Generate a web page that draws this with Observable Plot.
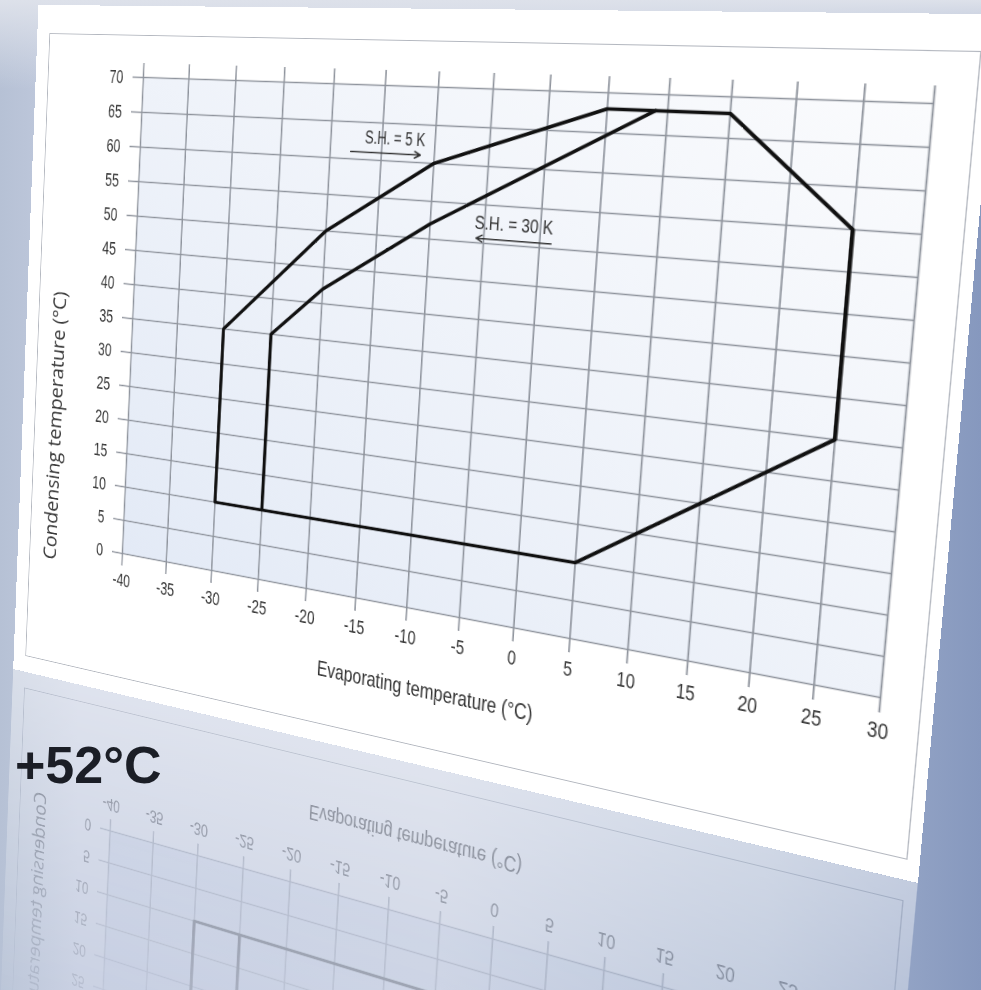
<!DOCTYPE html>
<html>
<head>
<meta charset="utf-8">
<script src="https://cdn.jsdelivr.net/npm/d3@7"></script>
<script src="https://cdn.jsdelivr.net/npm/@observablehq/plot@0.6"></script>
<style>
  html, body { margin: 0; padding: 0; }
  #stage {
    position: relative; width: 981px; height: 990px; overflow: hidden;
    background:
      linear-gradient(to bottom, #dde1ea 0%, rgba(221,225,234,0) 9%),
      linear-gradient(to right, #b6c1d5 0%, #c4cce0 8%, #c5cde0 45%, #a9b7d1 78%, #8698be 100%);
  }
  .card {
    position: absolute; left: 0; top: 0; width: 962px; height: 812px;
    background: #ffffff; transform-origin: 0 0;
  }
  .card .inner {
    position: absolute; left: 16px; top: 33px; width: 936px; height: 759px;
    border: 1.5px solid #b3b7bf; box-sizing: border-box;
  }
  .card svg { position: absolute; left: 0; top: 0; overflow: visible; }
  .reflection {
    -webkit-mask-image: linear-gradient(to top, rgba(0,0,0,0.45) 0%, rgba(0,0,0,0.22) 30%, rgba(0,0,0,0) 62%);
            mask-image: linear-gradient(to top, rgba(0,0,0,0.45) 0%, rgba(0,0,0,0.22) 30%, rgba(0,0,0,0) 62%);
    filter: blur(0.6px);
  }
  #badge {
    position: absolute; left: 15px; top: 739px;
    font: bold 52px "Liberation Sans", Arial, sans-serif; line-height: 1;
    color: #1b1e26; white-space: nowrap;
  }
</style>
</head>
<body>
<div id="stage"></div>
<script>
// ---- data ----
const evapTicks = [-40, -35, -30, -25, -20, -15, -10, -5, 0, 5, 10, 15, 20, 25, 30];
const condTicks = [0, 5, 10, 15, 20, 25, 30, 35, 40, 45, 50, 55, 60, 65, 70];

// S.H. = 5 K envelope (closed)
const sh5Evap = [-30, -30, -20, -10, 5, 15, 25, 25, 5, -30];
const sh5Cond = [10, 35, 50, 60, 68, 68, 55, 30, 10, 10];

// S.H. = 30 K envelope (left part, joins the 5 K envelope)
const sh30Evap = [-25, -25, -20, -10, 9];
const sh30Cond = [10, 35, 42, 52, 68];

// annotations
const noteText = ["S.H. = 5 K", "S.H. = 30 K"];
const noteEvap = [-13.8, -2.4];
const noteCond = [61, 50.6];
const arrowFrom = [-18, 1];
const arrowTo = [-11.3, -5.7];

const xLabel = "Evaporating temperature (°C)";
const yLabel = "Condensing temperature (°C)";
const badgeText = "+52°C";

// ---- build ----
const sh5 = sh5Evap.map((x, i) => ({x, y: sh5Cond[i]}));
const sh30 = sh30Evap.map((x, i) => ({x, y: sh30Cond[i]}));
const notes = noteText.map((t, i) => ({t, x: noteEvap[i], y: noteCond[i], x1: arrowFrom[i], x2: arrowTo[i]}));

const W = 962, H = 812, ML = 138, MR = 44, MT = 81, MB = 171;
const narrow = "'Liberation Sans', Arial, sans-serif";
const gridColor = "#8f949d";
const inkColor = "#363636";

const defsMark = () => {
  const ns = "http://www.w3.org/2000/svg";
  const g = document.createElementNS(ns, "g");
  g.innerHTML = '<defs><linearGradient id="gridbg" x1="0" y1="1" x2="1" y2="0">' +
    '<stop offset="0" stop-color="#e3eaf6"/><stop offset="1" stop-color="#fafbfd"/></linearGradient></defs>';
  return g;
};

const chart = Plot.plot({
  width: W, height: H,
  marginLeft: ML, marginRight: MR, marginTop: MT, marginBottom: MB,
  x: {domain: [-40, 30]},
  y: {domain: [0, 70]},
  style: {fontFamily: narrow, background: "transparent", color: inkColor, overflow: "visible"},
  marks: [
    defsMark,
    Plot.frame({fill: "url(#gridbg)", stroke: null}),
    Plot.gridX(evapTicks, {stroke: gridColor, strokeOpacity: 1, strokeWidth: 1.6, insetTop: -16}),
    Plot.gridY(condTicks, {stroke: gridColor, strokeOpacity: 1, strokeWidth: 1.6}),
    Plot.axisX(evapTicks, {tickSize: 15, tickPadding: 9, fontSize: 22, stroke: gridColor, strokeWidth: 1.6,
      fill: inkColor, label: null, tickFormat: d => String(d)}),
    Plot.axisY(condTicks, {tickSize: 13, tickPadding: 12, fontSize: 22, stroke: gridColor, strokeWidth: 1.6,
      fill: inkColor, label: null, tickFormat: d => String(d)}),
    Plot.line(sh5, {x: "x", y: "y", stroke: "#111", strokeWidth: 3.6, strokeLinejoin: "miter"}),
    Plot.line(sh30, {x: "x", y: "y", stroke: "#111", strokeWidth: 3.6, strokeLinejoin: "miter"}),
    Plot.arrow(notes, {x1: "x1", y1: "y", x2: "x2", y2: "y", stroke: "#333", strokeWidth: 1.5, headLength: 7}),
    Plot.text(notes, {x: "x", y: "y", text: "t", lineAnchor: "bottom", dy: -10, fontSize: 21, fill: "#333"}),
    Plot.text([xLabel], {frameAnchor: "bottom", dx: -35, dy: 88, lineAnchor: "middle", fontSize: 24, fill: "#333"}),
    Plot.text([yLabel], {frameAnchor: "bottom-left", dx: -94, dy: 24, rotate: -90, textAnchor: "start",
      lineAnchor: "middle", fontSize: 23, fontFamily: "'Open Sans', sans-serif", fill: "#3a3a3a"})
  ]
});

// ---- perspective placement (layout only) ----
function solveHomography(src, dst) {
  const A = [], b = [];
  for (let i = 0; i < 4; i++) {
    const [x, y] = src[i], [X, Y] = dst[i];
    A.push([x, y, 1, 0, 0, 0, -x * X, -y * X]); b.push(X);
    A.push([0, 0, 0, x, y, 1, -x * Y, -y * Y]); b.push(Y);
  }
  const n = 8;
  for (let c = 0; c < n; c++) {
    let p = c;
    for (let r = c + 1; r < n; r++) if (Math.abs(A[r][c]) > Math.abs(A[p][c])) p = r;
    [A[c], A[p]] = [A[p], A[c]]; [b[c], b[p]] = [b[p], b[c]];
    for (let r = 0; r < n; r++) {
      if (r === c) continue;
      const f = A[r][c] / A[c][c];
      for (let k = c; k < n; k++) A[r][k] -= f * A[c][k];
      b[r] -= f * b[c];
    }
  }
  const h = b.map((v, i) => v / A[i][i]);
  return [[h[0], h[1], h[2]], [h[3], h[4], h[5]], [h[6], h[7], 1]];
}
function toMatrix3d(M) {
  return `matrix3d(${M[0][0]},${M[1][0]},0,${M[2][0]},${M[0][1]},${M[1][1]},0,${M[2][1]},0,0,1,0,${M[0][2]},${M[1][2]},0,${M[2][2]})`;
}
const frameLocal = [[ML, MT], [W - MR, MT], [W - MR, H - MB], [ML, H - MB]];
const framePage = [[143, 77], [933, 103], [880, 697], [122, 553]];
const Hm = solveHomography(frameLocal, framePage);
const Hr = Hm.map(r => [r[0], -r[1], r[1] * 2 * H + r[2]]);

function makeCard(svg) {
  const card = document.createElement("div");
  card.className = "card";
  const inner = document.createElement("div");
  inner.className = "inner";
  card.appendChild(inner);
  card.appendChild(svg);
  return card;
}
const stage = document.getElementById("stage");
const card = makeCard(chart);
card.style.transform = toMatrix3d(Hm);
stage.appendChild(card);

// condensed lettering like the original's narrow typeface
const targetLen = new Map([[xLabel, 230], [yLabel, 327], [noteText[0], 64], [noteText[1], 78]]);
chart.querySelectorAll("text").forEach(t => {
  const s = t.textContent;
  const natural = t.getComputedTextLength();
  if (!natural) return;
  const len = targetLen.has(s) ? targetLen.get(s) : natural * 0.71;
  t.setAttribute("textLength", len.toFixed(1));
  t.setAttribute("lengthAdjust", "spacingAndGlyphs");
});

const refl = makeCard(chart.cloneNode(true));
refl.classList.add("reflection");
refl.style.transform = toMatrix3d(Hr);
stage.insertBefore(refl, card);

const badge = document.createElement("div");
badge.id = "badge";
badge.textContent = badgeText;
stage.appendChild(badge);
</script>
</body>
</html>
